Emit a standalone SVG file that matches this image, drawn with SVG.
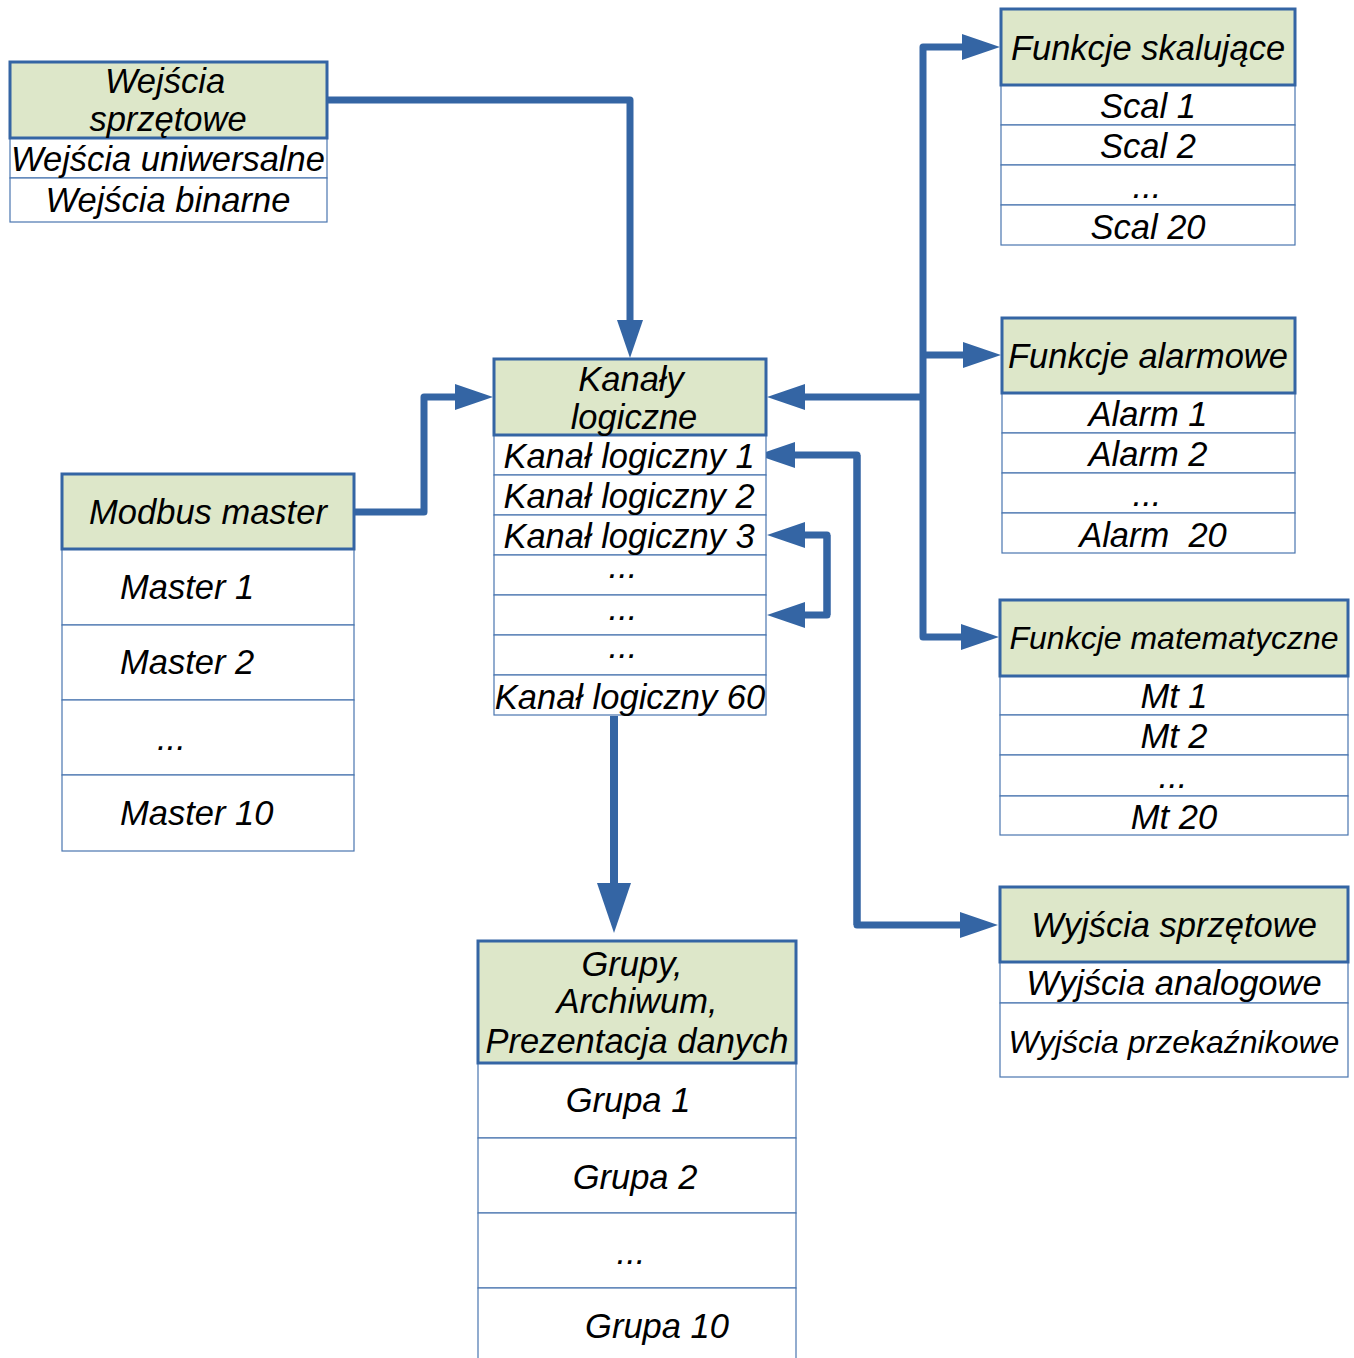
<svg xmlns="http://www.w3.org/2000/svg" width="1354" height="1358" viewBox="0 0 1354 1358">
<defs>
<style>
.hd{fill:#dde7c9;stroke:#3465a4;stroke-width:3}
.rw{fill:#ffffff;stroke:#4a76b0;stroke-width:1.2}
text{font-family:"Liberation Sans",Arial,sans-serif;font-style:italic;font-size:34.5px;fill:#000;text-anchor:middle}
.st{text-anchor:start}
.sm{font-size:32px}
.cn{fill:none;stroke:#3465a4;stroke-width:7;stroke-linejoin:round}
</style>
<marker id="arr" viewBox="0 0 38 26" refX="0" refY="13" markerWidth="38" markerHeight="26" markerUnits="userSpaceOnUse" orient="auto">
<path d="M0,0 L38,13 L0,26 z" fill="#3465a4"/>
</marker>
<marker id="arrBig" viewBox="0 0 50 34" refX="0" refY="17" markerWidth="50" markerHeight="34" markerUnits="userSpaceOnUse" orient="auto">
<path d="M0,0 L50,17 L0,34 z" fill="#3465a4"/>
</marker>
</defs>
<rect width="1354" height="1358" fill="#ffffff"/>

<g id="connectors">
<path class="cn" d="M328,100 H630 V320" marker-end="url(#arr)"/>
<path class="cn" d="M355,512 H424 V397 H455" marker-end="url(#arr)"/>
<path class="cn" d="M923,397 V47 H962" marker-end="url(#arr)"/>
<path class="cn" d="M923,355 H963" marker-end="url(#arr)"/>
<path class="cn" d="M923,397 V637 H961" marker-end="url(#arr)"/>
<path class="cn" d="M923,397 H805" marker-end="url(#arr)"/>
<path class="cn" d="M857,925 V455 H795" marker-end="url(#arr)"/>
<path class="cn" d="M857,455 V925 H960" marker-end="url(#arr)"/>
<path class="cn" d="M827,615 V535 H805" marker-end="url(#arr)"/>
<path class="cn" d="M827,535 V615 H805" marker-end="url(#arr)"/>
<path class="cn" d="M614,716 V883" marker-end="url(#arrBig)" style="stroke-width:8"/>
</g>

<g id="wejscia-sprzetowe">
<rect class="rw" x="10" y="138" width="317" height="40"/>
<rect class="rw" x="10" y="178" width="317" height="44"/>
<rect class="hd" x="10" y="62" width="317" height="76"/>
<text x="165" y="93">Wejścia</text>
<text x="168" y="131">sprzętowe</text>
<text x="168" y="171">Wejścia uniwersalne</text>
<text x="168" y="212">Wejścia binarne</text>
</g>

<g id="modbus-master">
<rect class="rw" x="62" y="549" width="292" height="76"/>
<rect class="rw" x="62" y="625" width="292" height="75"/>
<rect class="rw" x="62" y="700" width="292" height="75"/>
<rect class="rw" x="62" y="775" width="292" height="76"/>
<rect class="hd" x="62" y="474" width="292" height="75"/>
<text x="208" y="524">Modbus master</text>
<text class="st" x="120" y="599">Master 1</text>
<text class="st" x="120" y="674">Master 2</text>
<text class="st" x="157" y="750">...</text>
<text class="st" x="120" y="825">Master 10</text>
</g>

<g id="kanaly-logiczne">
<rect class="rw" x="494" y="435" width="272" height="40"/>
<rect class="rw" x="494" y="475" width="272" height="40"/>
<rect class="rw" x="494" y="515" width="272" height="40"/>
<rect class="rw" x="494" y="555" width="272" height="40"/>
<rect class="rw" x="494" y="595" width="272" height="40"/>
<rect class="rw" x="494" y="635" width="272" height="40"/>
<rect class="rw" x="494" y="675" width="272" height="40"/>
<rect class="hd" x="494" y="359" width="272" height="76"/>
<text x="631" y="391">Kanały</text>
<text x="634" y="429">logiczne</text>
<text x="629" y="468">Kanał logiczny 1</text>
<text x="629" y="508">Kanał logiczny 2</text>
<text x="629" y="548">Kanał logiczny 3</text>
<text x="623" y="578">...</text>
<text x="623" y="620">...</text>
<text x="623" y="658">...</text>
<text x="630" y="709">Kanał logiczny 60</text>
</g>

<g id="grupy">
<rect class="rw" x="478" y="1063" width="318" height="75"/>
<rect class="rw" x="478" y="1138" width="318" height="75"/>
<rect class="rw" x="478" y="1213" width="318" height="75"/>
<rect class="rw" x="478" y="1288" width="318" height="80"/>
<rect class="hd" x="478" y="941" width="318" height="122"/>
<text x="632" y="976">Grupy,</text>
<text x="637" y="1013">Archiwum,</text>
<text x="637" y="1053">Prezentacja danych</text>
<text x="628" y="1112">Grupa 1</text>
<text x="635" y="1189">Grupa 2</text>
<text x="631" y="1264">...</text>
<text x="657" y="1338">Grupa 10</text>
</g>

<g id="funkcje-skalujace">
<rect class="rw" x="1001" y="85" width="294" height="40"/>
<rect class="rw" x="1001" y="125" width="294" height="40"/>
<rect class="rw" x="1001" y="165" width="294" height="40"/>
<rect class="rw" x="1001" y="205" width="294" height="40"/>
<rect class="hd" x="1001" y="9" width="294" height="76"/>
<text x="1148" y="60">Funkcje skalujące</text>
<text x="1148" y="118">Scal 1</text>
<text x="1148" y="158">Scal 2</text>
<text x="1147" y="198">...</text>
<text x="1148" y="239">Scal 20</text>
</g>

<g id="funkcje-alarmowe">
<rect class="rw" x="1002" y="393" width="293" height="40"/>
<rect class="rw" x="1002" y="433" width="293" height="40"/>
<rect class="rw" x="1002" y="473" width="293" height="40"/>
<rect class="rw" x="1002" y="513" width="293" height="40"/>
<rect class="hd" x="1002" y="318" width="293" height="75"/>
<text x="1148" y="368">Funkcje alarmowe</text>
<text x="1148" y="426">Alarm 1</text>
<text x="1148" y="466">Alarm 2</text>
<text x="1147" y="506">...</text>
<text x="1153" y="547" style="white-space:pre">Alarm  20</text>
</g>

<g id="funkcje-matematyczne">
<rect class="rw" x="1000" y="676" width="348" height="39"/>
<rect class="rw" x="1000" y="715" width="348" height="40"/>
<rect class="rw" x="1000" y="755" width="348" height="41"/>
<rect class="rw" x="1000" y="796" width="348" height="39"/>
<rect class="hd" x="1000" y="600" width="348" height="76"/>
<text class="sm" x="1174" y="649">Funkcje matematyczne</text>
<text x="1174" y="708">Mt 1</text>
<text x="1174" y="748">Mt 2</text>
<text x="1173" y="788">...</text>
<text x="1174" y="829">Mt 20</text>
</g>

<g id="wyjscia-sprzetowe">
<rect class="rw" x="1000" y="962" width="348" height="41"/>
<rect class="rw" x="1000" y="1003" width="348" height="74"/>
<rect class="hd" x="1000" y="887" width="348" height="75"/>
<text x="1174" y="937">Wyjścia sprzętowe</text>
<text x="1174" y="995">Wyjścia analogowe</text>
<text class="sm" x="1174" y="1053">Wyjścia przekaźnikowe</text>
</g>
</svg>
